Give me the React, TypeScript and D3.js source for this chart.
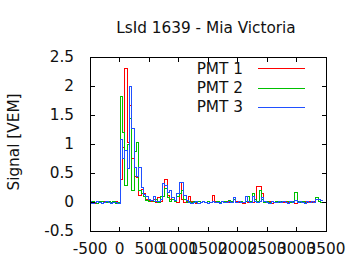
import React from "react";
import * as d3 from "d3";

const W = 360;
const H = 270;
const title = "LsId 1639 - Mia Victoria";
const yLabel = "Signal [VEM]";
const xTicks = [-500, 0, 500, 1000, 1500, 2000, 2500, 3000, 3500];
const yTicks = [-0.5, 0, 0.5, 1, 1.5, 2, 2.5];
const binStart = -520;
const binWidth = 40;

const pmt1 = [
  0, 0, -0.01, 0.02, 0, -0.01, 0.01, 0, 0, -0.01, 0, 0.01, 0,
  0.4, 0.95, 2.31, 1.03, 1.67, 0.76, 0.45, 0.43, 0.12, 0.22, 0.15, 0.05, 0.04,
  0.02, 0.05, 0, 0.08, 0.02, 0.1, 0.4, 0.12, 0.05, 0.08, 0.02, 0, 0.34, 0.05,
  0, 0.01, 0.1, 0.01, 0, -0.01, 0.02, 0, 0.01, 0, 0.02, 0, 0.12, 0.01,
  0, -0.01, 0.01, 0, 0.02, 0, 0, 0.08, 0.01, 0, 0.02, -0.01, 0.01, 0,
  0.02, 0, 0.01, 0.27, 0.27, 0.15, 0.02, 0, 0.01, -0.01, 0, 0.02, 0,
  0.01, 0, 0.01, 0, 0.02, 0, -0.01, 0, 0.01, 0, 0.02, 0, 0.01, 0, 0.01, 0.06, 0.06,
];

const pmt2 = [
  0, 0.01, 0, -0.01, 0.02, 0.01, 0, 0, 0.02, 0, 0.01, -0.01, 0,
  1.83, 1.21, 0.3, 1.0, 1.45, 0.2, 0.88, 1.03, 0.2, 0.15, 0.1, 0.04, 0.02,
  0.03, 0.02, 0.05, 0, 0.1, 0.1, 0.24, 0.08, 0.02, 0.05, 0.02, 0.1, 0.15, 0.2,
  0.05, 0, 0.01, 0, 0.02, 0, 0.01, 0, 0.02, 0, 0.01, 0, 0.02, 0,
  0.01, 0, 0.02, 0.01, 0, 0.03, 0.02, 0.05, 0, 0.01, 0.02, 0, 0.01, 0.1,
  0.02, 0.15, 0.05, 0.02, 0.2, 0.05, 0, 0.01, 0, 0.02, 0, 0.01, 0,
  0.01, 0.02, 0, 0.01, 0, 0.01, 0.18, 0.02, 0, 0.01, 0, 0.02, 0, 0.01, 0, 0.09, 0.02, 0,
];

const pmt3 = [
  0.01, -0.01, 0, 0.01, 0, -0.01, 0, 0.01, 0, -0.02, 0, 0, -0.01,
  1.08, 0.75, 0.9, 0.58, 2.0, 1.28, 0.6, 0.45, 0.6, 0.26, 0.14, 0.1, 0.06,
  0.03, 0.1, 0.02, 0.01, 0.05, 0.32, 0.3, 0.18, 0.2, 0.08, 0.04, 0.15, 0.34, 0.34,
  0.12, 0.03, 0, -0.02, 0, 0.01, -0.01, 0, 0.01, 0, -0.01, 0, 0.01, 0,
  0, -0.01, 0.01, 0, 0, 0.01, 0, 0.08, 0, 0.01, 0, 0, 0.1, 0.01,
  0, 0.1, 0.02, 0, 0.01, 0.08, 0.01, 0, -0.01, 0.01, 0, 0, 0.01,
  0, 0.01, 0, -0.01, 0.01, 0, 0.04, 0, 0.01, 0, -0.01, 0.01, 0, 0.02, 0, 0.06, 0.06, 0.03,
];

const series = [
  { name: "PMT 1", values: pmt1, color: "#ff0000" },
  { name: "PMT 2", values: pmt2, color: "#00c000" },
  { name: "PMT 3", values: pmt3, color: "#2050ff" },
];

const L = 90, R = 326, T = 57, B = 231;
const x = d3.scaleLinear().domain([-500, 3500]).range([L, R]);
const y = d3.scaleLinear().domain([-0.5, 2.5]).range([B, T]);
const font = "DejaVu Sans, sans-serif";
const fs = 15.3;
const tk = 4.5;

function stepPath(values: number[]) {
  const pts: [number, number][] = values.map((v, i) => [binStart + i * binWidth, v]);
  pts.push([binStart + values.length * binWidth, values[values.length - 1]]);
  const line = d3
    .line<[number, number]>()
    .x((d) => Math.round(x(d[0])) + 0.5)
    .y((d) => Math.round(y(d[1])) + 0.5)
    .curve(d3.curveStepAfter);
  return line(pts) || "";
}

export default function App() {
  return (
    <svg
      width={W}
      height={H}
      style={{ position: "fixed", left: 0, top: 0, background: "#fff" }}
      fontFamily={font}
    >
      <rect x={0} y={0} width={W} height={H} fill="#fff" />
      <defs>
        <clipPath id="plot">
          <rect x={L} y={T} width={R - L} height={B - T} />
        </clipPath>
      </defs>
      <text x={206} y={33} textAnchor="middle" fontSize={fs} fill="#111">
        {title}
      </text>
      <text
        transform={`translate(18.5,142) rotate(-90)`}
        textAnchor="middle"
        fontSize={fs}
        fill="#111"
      >
        {yLabel}
      </text>
      <g clipPath="url(#plot)">
        {series.map((s) => (
          <path key={s.name} d={stepPath(s.values)} fill="none" stroke={s.color} strokeWidth={1.2} shapeRendering="crispEdges" />
        ))}
      </g>
      <g stroke="#000" strokeWidth={1} shapeRendering="crispEdges">
        {xTicks.map((t) => (
          <g key={"x" + t}>
            <line x1={x(t)} x2={x(t)} y1={B} y2={B - tk} />
            <line x1={x(t)} x2={x(t)} y1={T} y2={T + tk} />
          </g>
        ))}
        {yTicks.map((t) => (
          <g key={"y" + t}>
            <line x1={L} x2={L + tk} y1={y(t)} y2={y(t)} />
            <line x1={R} x2={R - tk} y1={y(t)} y2={y(t)} />
          </g>
        ))}
        <rect x={L} y={T} width={R - L} height={B - T} fill="none" />
      </g>
      {xTicks.map((t) => (
        <text key={"xl" + t} x={x(t)} y={B + 23} textAnchor="middle" fontSize={fs} fill="#111">
          {t}
        </text>
      ))}
      {yTicks.map((t) => (
        <text key={"yl" + t} x={74} y={y(t) + 5.4} textAnchor="end" fontSize={fs} fill="#111">
          {t}
        </text>
      ))}
      {series.map((s, i) => (
        <g key={"lg" + s.name}>
          <text x={243} y={68.3 + i * 19.3 + 5.5} textAnchor="end" fontSize={fs} fill="#111">
            {s.name}
          </text>
          <line
            x1={258}
            x2={305}
            y1={Math.round(68.3 + i * 19.3) + 0.5}
            y2={Math.round(68.3 + i * 19.3) + 0.5}
            stroke={s.color}
            strokeWidth={1.2}
            shapeRendering="crispEdges"
          />
        </g>
      ))}
    </svg>
  );
}
